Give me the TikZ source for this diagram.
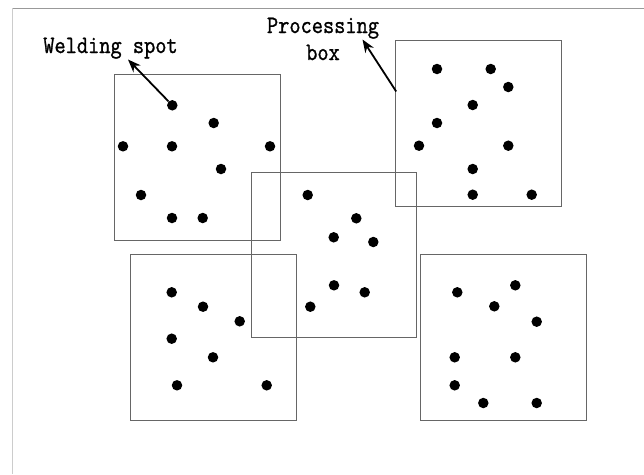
\documentclass[tikz,border=0pt]{standalone}
\usepackage{fontspec}
\usepackage{tikz}
\usetikzlibrary{arrows.meta,positioning}
\newfontfamily\labelfont[FakeStretch=0.87,FakeBold=1.2]{Latin Modern Mono}

\begin{document}
\begin{tikzpicture}[x=1pt,y=-1pt,
    box/.style={draw=black!60,line width=1.4pt,minimum size=166pt,inner sep=0pt},
    dot/.style={circle,fill=black,minimum size=10.5pt,inner sep=0pt},
    label/.style={font=\labelfont\fontsize{25}{27}\selectfont,inner sep=1pt},
    pointer/.style={-{Stealth[length=13pt,width=10pt]},line width=1.8pt}]
\useasboundingbox (0,0) rectangle (644,474);
% page frame
\draw[black!40,line width=1.4pt] (12.5,8.3) -- (644,8.3);
\draw[black!20,line width=0.8pt] (12.5,8.3) -- (12.5,474);
% processing boxes
\node[box] (boxA) at (197.3,157.2) {};
\node[box] (boxB) at (478.6,123.5) {};
\node[box,minimum size=165pt] (boxC) at (334.2,254.7) {};
\node[box] (boxD) at (213.2,337.5) {};
\node[box] (boxE) at (503.3,337.5) {};
% welding spots, box A
\node[dot] (a1) at (172.3,105.3) {};
\node[dot] (a2) at (213.7,123) {};
\node[dot] (a3) at (123,146.3) {};
\node[dot] (a4) at (172,146.3) {};
\node[dot] (a5) at (270,146.3) {};
\node[dot] (a6) at (221,169) {};
\node[dot] (a7) at (141,195) {};
\node[dot] (a8) at (172,218) {};
\node[dot] (a9) at (202.7,218) {};
% box B
\node[dot] (b1) at (437,69) {};
\node[dot] (b2) at (490.7,69) {};
\node[dot] (b3) at (508.3,87) {};
\node[dot] (b4) at (472.7,105) {};
\node[dot] (b5) at (437,123) {};
\node[dot] (b6) at (419,145.7) {};
\node[dot] (b7) at (508.3,145.7) {};
\node[dot] (b8) at (472.7,169) {};
\node[dot] (b9) at (472.7,194.7) {};
\node[dot] (b10) at (531.7,194.7) {};
% box C
\node[dot] (c1) at (307.7,195) {};
\node[dot] (c2) at (356.3,218.3) {};
\node[dot] (c3) at (333.7,237.3) {};
\node[dot] (c4) at (373.3,242) {};
\node[dot] (c5) at (334,285.3) {};
\node[dot] (c6) at (364.7,292.3) {};
\node[dot] (c7) at (310.3,306.7) {};
% box D
\node[dot] (d1) at (171.7,292.3) {};
\node[dot] (d2) at (203,306.7) {};
\node[dot] (d3) at (239.7,321.3) {};
\node[dot] (d4) at (171.7,338.7) {};
\node[dot] (d5) at (213,357.3) {};
\node[dot] (d6) at (177,385.3) {};
\node[dot] (d7) at (266.7,385.3) {};
% box E
\node[dot] (e1) at (457.3,292.3) {};
\node[dot] (e2) at (515.3,285.3) {};
\node[dot] (e3) at (494.3,306.3) {};
\node[dot] (e4) at (536.7,321.7) {};
\node[dot] (e5) at (454.7,357.3) {};
\node[dot] (e6) at (515.3,357.3) {};
\node[dot] (e7) at (454.7,385.3) {};
\node[dot] (e8) at (483.3,403) {};
\node[dot] (e9) at (536.7,403) {};
% labels
\node[label,anchor=base] (spot) at (110.5,53) {Welding spot};
\node[label,anchor=base,align=center] (proc) at (323,60) {Processing\\box};
\coordinate (spottip) at (128,59.5);
\coordinate (proctail) at (396.2,91.5);
\coordinate (proctip) at (362.5,39.5);
\draw[pointer] (a1) -- (spottip);
\draw[pointer] (proctail) -- (proctip);
\end{tikzpicture}
\end{document}
